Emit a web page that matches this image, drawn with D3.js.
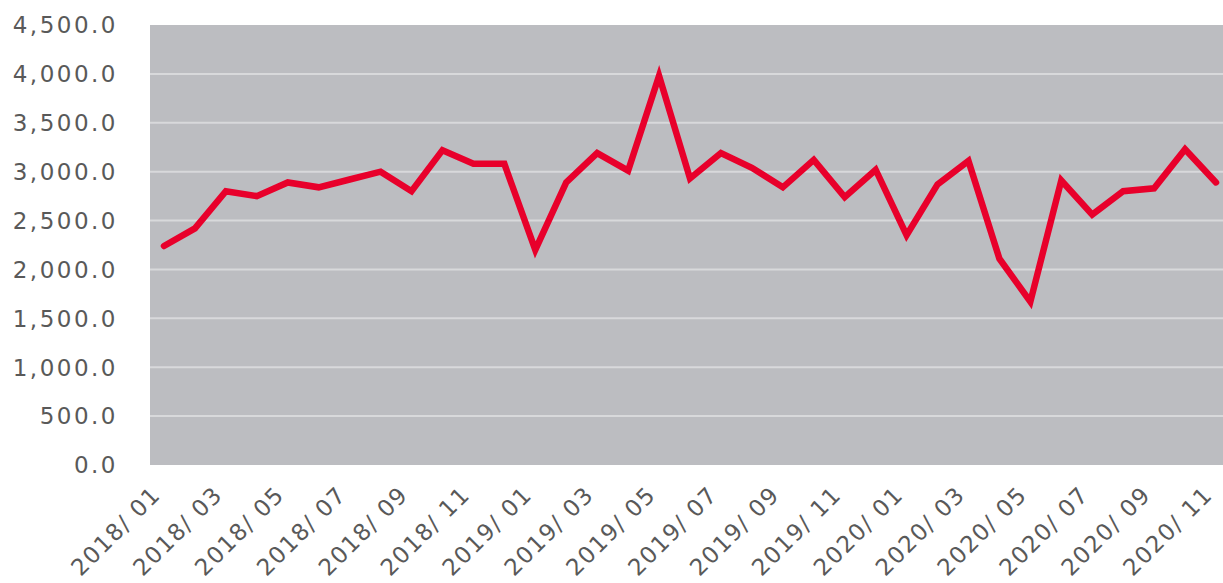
<!DOCTYPE html>
<html>
<head>
<meta charset="utf-8">
<script src="https://cdn.jsdelivr.net/npm/d3@7"></script>
<style>
  body { margin: 0; background: #fff; }
  svg text { font-family: "DejaVu Sans", sans-serif; fill: #595959; }
</style>
</head>
<body>
<svg id="chart" width="1223" height="583"></svg>
<script>
const months = [
  "2018/01", "2018/02", "2018/03", "2018/04", "2018/05", "2018/06",
  "2018/07", "2018/08", "2018/09", "2018/10", "2018/11", "2018/12",
  "2019/01", "2019/02", "2019/03", "2019/04", "2019/05", "2019/06",
  "2019/07", "2019/08", "2019/09", "2019/10", "2019/11", "2019/12",
  "2020/01", "2020/02", "2020/03", "2020/04", "2020/05", "2020/06",
  "2020/07", "2020/08", "2020/09", "2020/10", "2020/11"
];
const values = [
  2240, 2420, 2800, 2750, 2890, 2840, 2920, 3000, 2800, 3220, 3080, 3080,
  2200, 2890, 3190, 3010, 3980, 2930, 3190, 3040, 2840, 3120, 2740, 3020,
  2350, 2870, 3110, 2110, 1670, 2910, 2560, 2800, 2830, 3230, 2890
];
const yTicks = [0, 500, 1000, 1500, 2000, 2500, 3000, 3500, 4000, 4500];
// every other month is labelled
const xLabels = months.filter((d, i) => i % 2 === 0);

var plotLeft = 150, plotRight = 1223, plotTop = 25, plotBottom = 465;

var svg = d3.select("#chart");

var x = d3.scalePoint()
  .domain(months)
  .range([164, 1216]);

var y = d3.scaleLinear()
  .domain([0, 4500])
  .range([plotBottom, plotTop]);

svg.append("rect")
  .attr("x", plotLeft)
  .attr("y", plotTop)
  .attr("width", plotRight - plotLeft)
  .attr("height", plotBottom - plotTop)
  .attr("fill", "#bcbdc1");

// grid lines
svg.append("g")
  .selectAll("line")
  .data(yTicks.filter(d => d > 0 && d < 4500))
  .join("line")
    .attr("x1", plotLeft)
    .attr("x2", plotRight)
    .attr("y1", d => y(d))
    .attr("y2", d => y(d))
    .attr("stroke", "#d8d9db")
    .attr("stroke-width", 2);

// y labels
var fmt = d3.format(",.1f");
svg.append("g")
  .selectAll("text")
  .data(yTicks)
  .join("text")
    .attr("x", 118)
    .attr("y", d => y(d))
    .attr("dy", "0.36em")
    .attr("text-anchor", "end")
    .attr("font-size", 23)
    .attr("letter-spacing", 2.5)
    .text(d => fmt(d));

// x labels
svg.append("g")
  .selectAll("text")
  .data(xLabels)
  .join("text")
    .attr("transform", d => "translate(" + (x(d) - 2) + ",496) rotate(-45)")
    .attr("text-anchor", "end")
    .attr("font-size", 23)
    .attr("letter-spacing", 1.5)
    .text(d => d.replace("/", "/ "));

var line = d3.line()
  .x((d, i) => x(months[i]))
  .y(d => y(d));

svg.append("path")
  .datum(values)
  .attr("fill", "none")
  .attr("stroke", "#e8002b")
  .attr("stroke-width", 6.5)
  .attr("stroke-linejoin", "miter")
  .attr("stroke-linecap", "round")
  .attr("d", line);
</script>
</body>
</html>
